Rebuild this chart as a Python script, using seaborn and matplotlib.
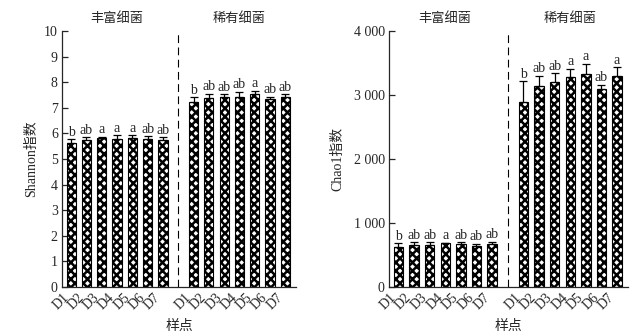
import matplotlib
matplotlib.use("Agg")
import matplotlib.pyplot as plt
import matplotlib.transforms as mtrans
import seaborn as sns
import numpy as np
import pandas as pd

sites = ["D1", "D2", "D3", "D4", "D5", "D6", "D7"]
groups = ["丰富细菌", "稀有细菌"]

shannon_abund = [5.63, 5.75, 5.82, 5.80, 5.82, 5.78, 5.73]
shannon_abund_err = [0.14, 0.10, 0.05, 0.12, 0.10, 0.10, 0.12]
shannon_rare = [7.22, 7.38, 7.42, 7.42, 7.52, 7.33, 7.43]
shannon_rare_err = [0.20, 0.16, 0.10, 0.20, 0.15, 0.10, 0.10]
shannon_abund_sig = ["b", "ab", "a", "a", "a", "ab", "ab"]
shannon_rare_sig = ["b", "ab", "ab", "ab", "a", "ab", "ab"]

chao_abund = [630, 656, 656, 683, 670, 640, 670]
chao_abund_err = [50, 40, 40, 12, 30, 30, 35]
chao_rare = [2895, 3140, 3208, 3281, 3323, 3094, 3302]
chao_rare_err = [320, 160, 130, 130, 166, 62, 130]
chao_abund_sig = ["b", "ab", "ab", "a", "ab", "ab", "ab"]
chao_rare_sig = ["b", "ab", "ab", "a", "a", "ab", "a"]

sns.set_style("ticks")
plt.rcParams['font.family'] = ['Liberation Serif', 'Noto Sans CJK SC']
plt.rcParams['hatch.linewidth'] = 1.8
plt.rcParams['axes.linewidth'] = 0.9

fig = plt.figure(figsize=(6.41, 3.35), dpi=100)
ax1 = fig.add_axes([62/641, 1-287/335, (296-62)/641, (287-31)/335])
ax2 = fig.add_axes([389/641, 1-287/335, (628-389)/641, (287-31)/335])

pos = list(range(7)) + list(range(8, 15))


def panel(ax, abund, aerr, rare, rerr, asig, rsig, ymax, yticks, yticklabels, ylabel, off, lpad):
    vals = abund + rare
    errs = aerr + rerr
    sig = asig + rsig
    df = pd.DataFrame({"pos": pos, "val": vals})
    sns.barplot(data=df, x="pos", y="val", native_scale=True, width=0.6,
                color="white", edgecolor="black", linewidth=0.8, ax=ax, errorbar=None)
    for p in ax.patches:
        p.set_hatch("xxxx")
        p.set_facecolor("white")
        p.set_edgecolor("black")
    ax.errorbar(pos, vals, yerr=[np.zeros(len(vals)), errs], fmt="none",
                ecolor="black", elinewidth=0.9, capsize=3, capthick=0.9)
    for x, v, e, s in zip(pos, vals, errs, sig):
        ax.text(x, v + e + off, s, ha="center", va="bottom", fontsize=10)
    ax.axvline(7, color="black", linestyle=(0, (7, 4)), linewidth=0.8)
    ax.set_xlim(-0.6, 14.7)
    ax.set_ylim(0, ymax)
    ax.set_yticks(yticks)
    ax.set_yticklabels(yticklabels, fontsize=10)
    ax.set_xticks(pos)
    ax.set_xticklabels(sites + sites, rotation=45, fontsize=10, ha="right")
    shift = mtrans.ScaledTranslation(3.5 / 100, 0, fig.dpi_scale_trans)
    for lbl in ax.get_xticklabels():
        lbl.set_transform(lbl.get_transform() + shift)
    ax.tick_params(axis="y", direction="in", length=4, width=0.9, pad=3)
    ax.tick_params(axis="x", length=0, pad=3)
    sns.despine(ax=ax)
    ax.set_xlabel("样点", fontsize=10, va="center")
    ax.xaxis.set_label_coords(0.5, (287 - 326) / 256)
    ax.set_ylabel(ylabel, fontsize=10, labelpad=lpad)
    ax.text(3, 1.025, groups[0], transform=ax.get_xaxis_transform(), ha="center",
            va="bottom", fontsize=9.5)
    ax.text(11, 1.025, groups[1], transform=ax.get_xaxis_transform(), ha="center",
            va="bottom", fontsize=9.5)


panel(ax1, shannon_abund, shannon_abund_err, shannon_rare, shannon_rare_err,
      shannon_abund_sig, shannon_rare_sig, 10, range(11), [str(i) for i in range(11)],
      "Shannon指数", 0.02, 4)
panel(ax2, chao_abund, chao_abund_err, chao_rare, chao_rare_err,
      chao_abund_sig, chao_rare_sig, 4000, [0, 1000, 2000, 3000, 4000],
      ["0", "1 000", "2 000", "3 000", "4 000"], "Chao1指数", 10, 7)

fig.savefig("out.png", dpi=100)
